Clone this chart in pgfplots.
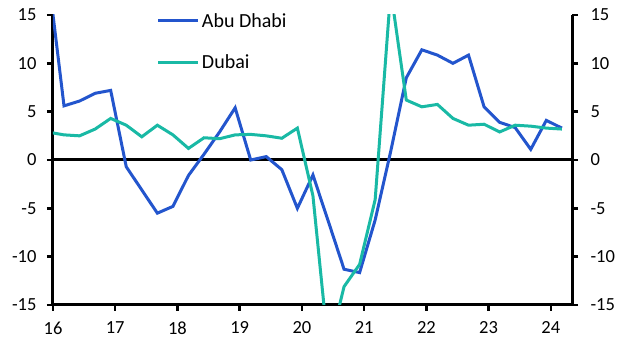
\documentclass[border=0pt]{standalone}
\usepackage{fontspec}
\setmainfont{Carlito}
\usepackage{pgfplots}
\pgfplotsset{compat=1.18}
\definecolor{abu}{RGB}{35,85,205}
\definecolor{dub}{RGB}{25,185,165}
\begin{document}
\begin{tikzpicture}
\useasboundingbox (-53bp,-49bp) rectangle (579bp,305bp);
\begin{axis}[
 scale only axis, width=519bp, height=290bp,
 xmin=16, xmax=24.34, ymin=-15, ymax=15,
 axis x line*=bottom, axis y line*=left,
 axis line style={line width=3bp, -},
 xtick={16,...,24}, ytick={-15,-10,...,15},
 tick style={line width=2.5bp, black},
 major tick length=6bp,
 tick align=outside,
 ticklabel style={font=\fontsize{18.5bp}{20bp}\selectfont},
 /pgf/number format/assume math mode=true,
 yticklabel style={xshift=-7bp},
 xticklabel style={yshift=-7bp},
 clip=true,
 legend style={at={(rel axis cs:0.2,1)}, anchor=north west, yshift=4bp, draw=none, fill=none,
   font=\fontsize{20bp}{22bp}\selectfont, row sep=22bp, inner sep=0pt, cells={anchor=west}},
 legend image code/.code={\draw[#1] (0bp,0bp) -- (40bp,0bp);},
]
\addplot[black, line width=3bp, forget plot] coordinates {(16,0) (24.34,0)};
\addplot[abu, line width=3bp] coordinates {
(15.927,18.9) (16.177,5.6) (16.427,6.1) (16.677,6.9) (16.927,7.2)
(17.177,-0.7) (17.427,-3.1) (17.677,-5.5) (17.927,-4.8)
(18.177,-1.6) (18.427,0.6) (18.677,2.9) (18.927,5.4)
(19.177,0.0) (19.427,0.35) (19.677,-1.0) (19.927,-5.0)
(20.177,-1.55) (20.427,-6.4) (20.677,-11.3) (20.927,-11.65)
(21.177,-6.2) (21.427,0.9) (21.677,8.5) (21.927,11.4)
(22.177,10.85) (22.427,10.0) (22.677,10.85) (22.927,5.5)
(23.177,3.9) (23.427,3.35) (23.677,1.1) (23.927,4.1) (24.177,3.3)};
\addlegendentry{Abu Dhabi}
\addplot[dub, line width=3bp] coordinates {
(15.927,2.88) (16.177,2.6) (16.427,2.5) (16.677,3.2) (16.927,4.3)
(17.177,3.6) (17.427,2.4) (17.677,3.6) (17.927,2.6)
(18.177,1.2) (18.427,2.3) (18.677,2.2) (18.927,2.6)
(19.177,2.65) (19.427,2.5) (19.677,2.25) (19.927,3.3)
(20.177,-3.7) (20.427,-19.7) (20.677,-13.1) (20.927,-10.8)
(21.177,-4.1) (21.427,17.5) (21.677,6.2) (21.927,5.5)
(22.177,5.75) (22.427,4.3) (22.677,3.6) (22.927,3.7)
(23.177,2.9) (23.427,3.6) (23.677,3.5) (23.927,3.3) (24.177,3.2)};
\addlegendentry{Dubai}
\end{axis}
\begin{axis}[
 scale only axis, width=519bp, height=290bp,
 xmin=16, xmax=24.34, ymin=-15, ymax=15,
 axis x line=none, axis y line*=right,
 axis line style={line width=3bp, -},
 ytick={-15,-10,...,15},
 tick style={line width=2.5bp, black},
 major tick length=6bp,
 tick align=outside,
 ticklabel style={font=\fontsize{18.5bp}{20bp}\selectfont},
 /pgf/number format/assume math mode=true,
 yticklabel style={xshift=9bp},
]
\addplot[draw=none] coordinates {(16,0)};
\end{axis}
\end{tikzpicture}
\end{document}
